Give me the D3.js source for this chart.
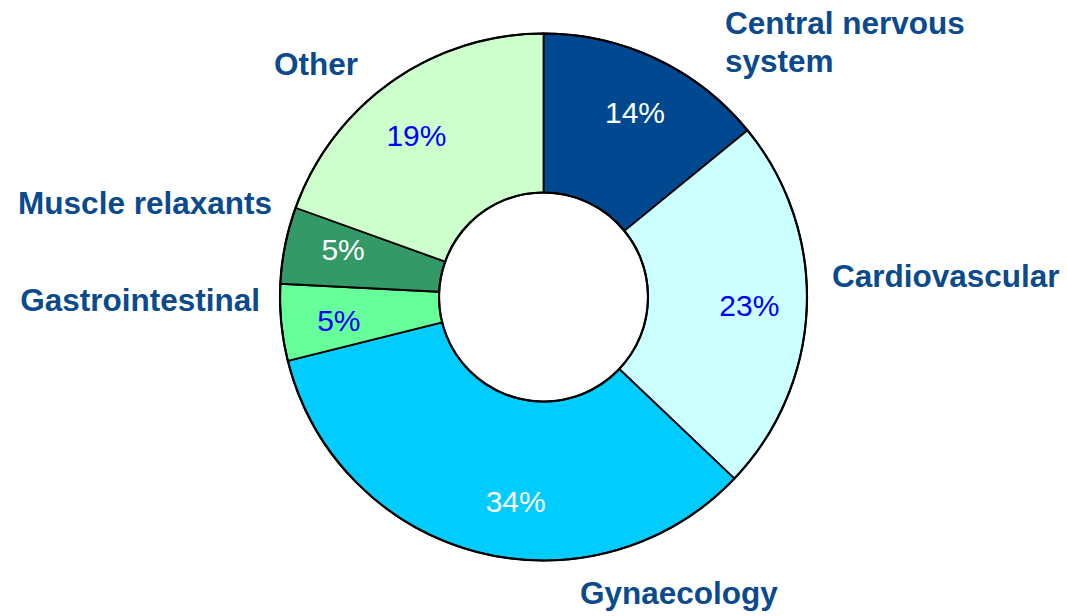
<!DOCTYPE html>
<html>
<head>
<meta charset="utf-8">
<script src="https://cdn.jsdelivr.net/npm/d3@7"></script>
<style>
  html, body { margin: 0; padding: 0; background: #fff; }
  svg { display: block; }
  text { font-family: "Liberation Sans", Arial, sans-serif; }
</style>
</head>
<body>
<svg width="1067" height="616"></svg>
<script>
// data (clockwise from 12 o'clock)
var categories = ['Central nervous system', 'Cardiovascular', 'Gynaecology', 'Gastrointestinal', 'Muscle relaxants', 'Other'];
var shares = [14.1, 23.0, 34.0, 4.7, 4.7, 19.5];
var pctLabels = ['14%', '23%', '34%', '5%', '5%', '19%'];

var sliceColors = ['#004990', '#ccffff', '#00ccff', '#66ff99', '#339966', '#ccffcc'];
var pctColors = ['#ffffff', '#0000ff', '#ffffff', '#0000ff', '#ffffff', '#0000ff'];
var labelColor = '#0b4a8c';

var cx = 543.5, cy = 297, rOuter = 263.5, rInner = 104.5, rText = 206;

// category label placement (relative to chart centre): dx, baseline dy, anchor
var labelLayout = [
	[181.5, -263, 'start'],
	[288.5, -10, 'start'],
	[36.5, 307, 'start'],
	[-283.5, 14, 'end'],
	[-271.5, -83, 'end'],
	[-185.5, -222, 'end']
];
// small nudges for the percent labels, degrees around the ring
var pctTurn = [1, 0, -7, -1, 2, -3];

var svg = d3.select('svg');
var g = svg.append('g').attr('transform', 'translate(' + cx + ',' + cy + ')');

var pie = d3.pie().sort(null).value(function(d){ return d; });
var arcs = pie(shares);

var arc = d3.arc().innerRadius(rInner).outerRadius(rOuter);

g.selectAll('path.slice')
	.data(arcs)
	.enter()
	.append('path')
	.attr('class', 'slice')
	.attr('d', arc)
	.attr('fill', function(d, i){ return sliceColors[i]; })
	.attr('stroke', '#000')
	.attr('stroke-width', 1.8)
	.attr('stroke-linejoin', 'round');

// ring outlines a touch heavier
g.append('circle').attr('r', rOuter).attr('fill', 'none').attr('stroke', '#000').attr('stroke-width', 2.2);
g.append('circle').attr('r', rInner).attr('fill', 'none').attr('stroke', '#000').attr('stroke-width', 2.2);

g.selectAll('text.pct')
	.data(arcs)
	.enter()
	.append('text')
	.attr('class', 'pct')
	.attr('x', function(d, i){ var a = (d.startAngle + d.endAngle) / 2 + pctTurn[i] * Math.PI / 180; return rText * Math.sin(a); })
	.attr('y', function(d, i){ var a = (d.startAngle + d.endAngle) / 2 + pctTurn[i] * Math.PI / 180; return -rText * Math.cos(a); })
	.attr('dy', '0.36em')
	.attr('text-anchor', 'middle')
	.attr('font-size', '30px')
	.attr('fill', function(d, i){ return pctColors[i]; })
	.text(function(d, i){ return pctLabels[i]; });

var labels = g.selectAll('text.cat')
	.data(categories)
	.enter()
	.append('text')
	.attr('class', 'cat')
	.attr('x', function(d, i){ return labelLayout[i][0]; })
	.attr('y', function(d, i){ return labelLayout[i][1]; })
	.attr('text-anchor', function(d, i){ return labelLayout[i][2]; })
	.attr('font-size', '31.5px')
	.attr('font-weight', 'bold')
	.attr('fill', labelColor);

// "Central nervous system" wraps onto two lines
labels.each(function(d, i){
	var t = d3.select(this);
	var lines = (i === 0) ? ['Central nervous', 'system'] : [d];
	lines.forEach(function(s, k){
		t.append('tspan')
			.attr('x', labelLayout[i][0])
			.attr('dy', k === 0 ? 0 : 38)
			.text(s);
	});
});
</script>
</body>
</html>
